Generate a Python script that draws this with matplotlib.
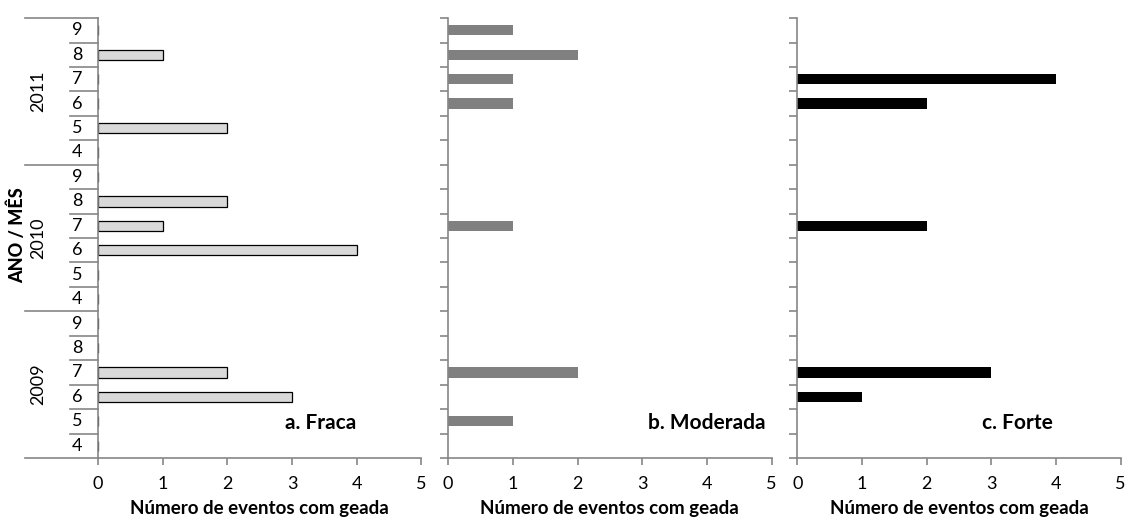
import matplotlib
matplotlib.use("Agg")
import matplotlib.pyplot as plt
import numpy as np

plt.rcParams['font.family'] = ['Lato', 'DejaVu Sans']

years = ['2009', '2010', '2011']
months = ['4', '5', '6', '7', '8', '9']

# bottom to top: 2009 4..9, 2010 4..9, 2011 4..9
fraca = [0, 0, 3, 2, 0, 0,
         0, 0, 4, 1, 2, 0,
         0, 2, 0, 0, 1, 0]
moderada = [0, 1, 0, 2, 0, 0,
            0, 0, 0, 1, 0, 0,
            0, 0, 1, 1, 2, 1]
forte = [0, 0, 1, 3, 0, 0,
         0, 0, 0, 2, 0, 0,
         0, 0, 2, 4, 0, 0]

panels = [(fraca, 'a. Fraca', '#d9d9d9', 'black', 0.087, 0.69),
          (moderada, 'b. Moderada', '#808080', 'none', 0.398, 0.80),
          (forte, 'c. Forte', '#000000', 'none', 0.708, 0.68)]

spine_c = '#868686'
n = len(fraca)
ypos = np.arange(n)

fig = plt.figure(figsize=(11.26, 5.25), dpi=100)

for vals, title, fc, ec, left, tx in panels:
    ax = fig.add_axes([left, 0.1276, 0.2872, 0.838])
    ax.barh(ypos, vals, height=0.42, color=fc, edgecolor=ec,
            linewidth=0.9 if ec != 'none' else 0)
    ax.set_xlim(0, 5)
    ax.set_ylim(-0.5, n - 0.5)
    for s in ['top', 'right']:
        ax.spines[s].set_visible(False)
    for s in ['left', 'bottom']:
        ax.spines[s].set_color(spine_c)
        ax.spines[s].set_linewidth(1.2)
    ax.set_xticks(range(6))
    ax.tick_params(axis='x', colors=spine_c, length=5, width=1.2,
                   labelsize=13, labelcolor='black', pad=8)
    ax.set_yticks(np.arange(n + 1) - 0.5)
    ax.set_yticklabels([])
    ax.set_xlabel('Número de eventos com geada', fontsize=13.5,
                  fontweight='bold', labelpad=6)
    ax.text(tx, 0.08, title, transform=ax.transAxes, ha='center',
            va='center', fontsize=15, fontweight='bold')
    if left > 0.1:
        ax.tick_params(axis='y', colors=spine_c, length=6, width=1.2)
    else:
        ax.tick_params(axis='y', length=0)
        tr = ax.get_yaxis_transform()
        x_year = -0.2253
        x_month = -0.0864
        for k in range(n + 1):
            y = k - 0.5
            x0 = x_year if k % 6 == 0 else x_month
            ax.plot([x0, 0], [y, y], transform=tr, color=spine_c,
                    lw=1.2, clip_on=False)
        for k in range(n):
            ax.text(-0.065, k, months[k % 6], transform=tr, ha='center',
                    va='center', fontsize=13)
        for g, yr in enumerate(years):
            ax.text(-0.185, g * 6 + 2.5, yr, transform=tr, ha='center',
                    va='center', rotation=90, fontsize=13)
        ax.text(-0.25, 8.6, 'ANO / MÊS', transform=tr, ha='center',
                va='center', rotation=90, fontsize=13, fontweight='black')

fig.savefig('out.png', dpi=100)
